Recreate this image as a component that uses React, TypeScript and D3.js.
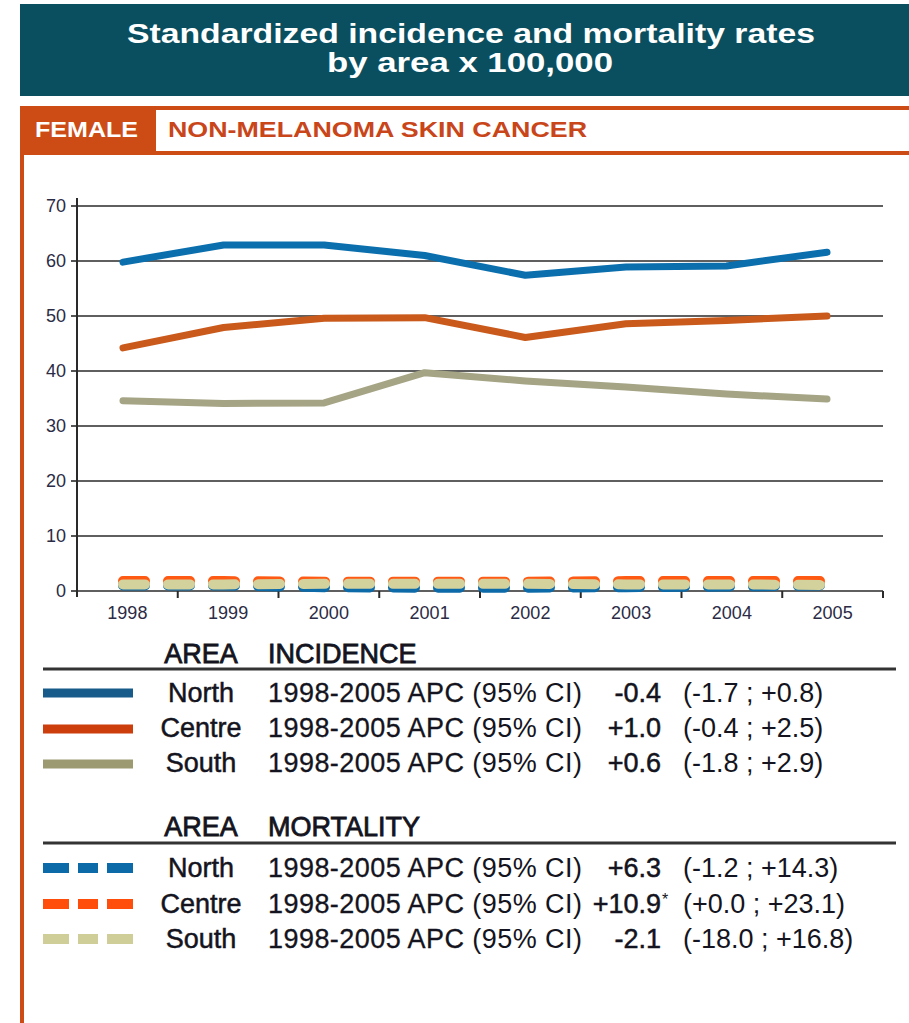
import React from "react";
import * as d3 from "d3";

const years = ["1998", "1999", "2000", "2001", "2002", "2003", "2004", "2005"];
const incNorth = [59.8, 62.9, 62.9, 61.0, 57.4, 58.9, 59.1, 61.6];
const incCentre = [44.2, 47.9, 49.6, 49.7, 46.1, 48.6, 49.2, 50.0];
const incSouth = [34.6, 34.1, 34.2, 39.7, 38.2, 37.1, 35.8, 34.9];
const morNorth = [1.0, 1.0, 0.7, 0.6, 0.6, 0.7, 0.8, 1.0];
const morCentre = [1.8, 1.8, 1.7, 1.7, 1.7, 1.8, 1.8, 1.8];
const morSouth = [1.2, 1.2, 1.3, 1.3, 1.3, 1.2, 1.2, 1.1];
const yTicks = [0, 10, 20, 30, 40, 50, 60, 70];

const areas = ["North", "Centre", "South"];
const period = "1998-2005 APC";
const ciLabel = "(95% CI)";
const incApc = ["-0.4", "+1.0", "+0.6"];
const incCi = ["(-1.7 ; +0.8)", "(-0.4 ; +2.5)", "(-1.8 ; +2.9)"];
const morApc = ["+6.3", "+10.9", "-2.1"];
const morSig = [false, true, false];
const morCi = ["(-1.2 ; +14.3)", "(+0.0 ; +23.1)", "(-18.0 ; +16.8)"];

const titleLines = ["Standardized incidence and mortality rates", "by area x 100,000"];
const sexLabel = "FEMALE";
const cancerLabel = "NON-MELANOMA SKIN CANCER";

const incColors = ["#0b6fae", "#c95a1b", "#a5a485"];
const incLegendColors = ["#165b8a", "#cc3e0c", "#9b9a71"];
const morColors = ["#0d6aa8", "#ff5a14", "#d3d19c"];
const morLegendColors = ["#0c6aa8", "#ff4d0c", "#cfcd98"];

const ORANGE = "#cd4b14";
const TEAL = "#0a4f60";
const TEXT = "#141420";
const FONT = "'Liberation Sans', Arial, Helvetica, sans-serif";

export default function App() {
  const y = d3.scaleLinear().domain([0, 70]).range([591, 206]);
  const xLine = d3.scalePoint<string>().domain(years).range([123, 827]);
  const xBand = d3.scaleBand<string>().domain(years).range([77, 883]);

  const line = d3
    .line<number>()
    .x((_, i) => xLine(years[i]) as number)
    .y((d) => y(d))
    .curve(d3.curveLinear);

  const incSeries = [incNorth, incCentre, incSouth];
  const morSeries = [morNorth, morCentre, morSouth];

  const legendRow = (
    i: number,
    baseline: number,
    swatchY: number,
    color: string,
    dashed: boolean,
    apc: string,
    sig: boolean,
    ci: string
  ) => (
    <g key={`${dashed ? "m" : "i"}${i}`}>
      <line
        x1={43}
        x2={133}
        y1={swatchY}
        y2={swatchY}
        stroke={color}
        strokeWidth={dashed ? 10 : 9}
        strokeDasharray={dashed ? "26 9 20 9 26" : undefined}
      />
      <text x={201} y={baseline} textAnchor="middle" fontSize={27} fill={TEXT} stroke={TEXT} strokeWidth={0.5}>
        {areas[i]}
      </text>
      <text x={268} y={baseline} fontSize={27} fill={TEXT} stroke={TEXT} strokeWidth={0.3} textLength={314} lengthAdjust="spacing">
        {period}
        <tspan stroke="none"> {ciLabel}</tspan>
      </text>
      <text x={661} y={baseline} textAnchor="end" fontSize={27} fill={TEXT} stroke={TEXT} strokeWidth={0.5}>
        {apc}
      </text>
      {sig && (
        <text x={662} y={baseline - 8} fontSize={16} fill={TEXT}>
          *
        </text>
      )}
      <text x={683} y={baseline} fontSize={27} fill={TEXT}>
        {ci}
      </text>
    </g>
  );

  const incBase = [702, 737, 772];
  const incSw = [693, 729, 764];
  const morBase = [877, 913, 948];
  const morSw = [868, 904, 939];

  return (
    <svg
      width={909}
      height={1023}
      style={{ position: "absolute", left: 0, top: 0, background: "#fff" }}
      fontFamily={FONT}
    >
      {/* Title banner */}
      <rect x={20} y={4} width={889} height={92} fill={TEAL} />
      <text x={471} y={43} textAnchor="middle" fontSize={27} fontWeight="bold" fill="#fff" textLength={688} lengthAdjust="spacingAndGlyphs">
        {titleLines[0]}
      </text>
      <text x={470} y={72} textAnchor="middle" fontSize={27} fontWeight="bold" fill="#fff" textLength={286} lengthAdjust="spacingAndGlyphs">
        {titleLines[1]}
      </text>

      {/* Section header */}
      <rect x={20} y={106} width={889} height={49} fill={ORANGE} />
      <rect x={156} y={110} width={753} height={41} fill="#fff" />
      <rect x={20} y={155} width={4} height={868} fill={ORANGE} />
      <text x={35} y={137} fontSize={22} fontWeight="bold" fill="#fff" textLength={103} lengthAdjust="spacingAndGlyphs">
        {sexLabel}
      </text>
      <text x={168} y={137} fontSize={22} fontWeight="bold" fill="#c9451a" textLength={419} lengthAdjust="spacingAndGlyphs">
        {cancerLabel}
      </text>

      {/* Grid + y axis */}
      {yTicks.map((t) => (
        <g key={t}>
          <line x1={77} x2={883} y1={y(t)} y2={y(t)} stroke="#2a2a2a" strokeWidth={1.6} />
          <line x1={71} x2={77} y1={y(t)} y2={y(t)} stroke="#2a2a2a" strokeWidth={1.6} />
          <text x={66} y={y(t)} dy="0.35em" textAnchor="end" fontSize={18} fill="#2b2b45">
            {t}
          </text>
        </g>
      ))}
      <line x1={77} x2={77} y1={198} y2={597} stroke="#2a2a2a" strokeWidth={2} />

      {/* X axis ticks and labels */}
      {years.map((yr) => {
        const x0 = xBand(yr) as number;
        const bw = xBand.bandwidth();
        return (
          <g key={yr}>
            <line x1={x0 + bw} x2={x0 + bw} y1={591} y2={598} stroke="#2a2a2a" strokeWidth={2} />
            <text x={x0 + bw / 2} y={619} textAnchor="middle" fontSize={18} fill="#2b2b45">
              {yr}
            </text>
          </g>
        );
      })}

      {/* Mortality dashed lines */}
      {morSeries.map((s, i) => (
        <path
          key={`mor${i}`}
          d={line(s) as string}
          fill="none"
          stroke={morColors[i]}
          strokeWidth={10}
          strokeLinecap="round"
          strokeDasharray="22 23"
        />
      ))}

      {/* Incidence lines */}
      {incSeries.map((s, i) => (
        <path
          key={`inc${i}`}
          d={line(s) as string}
          fill="none"
          stroke={incColors[i]}
          strokeWidth={7}
          strokeLinecap="round"
          strokeLinejoin="round"
        />
      ))}

      {/* Legend: incidence */}
      <text x={201} y={663} textAnchor="middle" fontSize={27} fill={TEXT} stroke={TEXT} strokeWidth={0.8}>AREA</text>
      <text x={268} y={663} fontSize={27} fill={TEXT} stroke={TEXT} strokeWidth={0.8}>INCIDENCE</text>
      <line x1={43} x2={896} y1={669} y2={669} stroke="#333" strokeWidth={3} />
      {areas.map((_, i) =>
        legendRow(i, incBase[i], incSw[i], incLegendColors[i], false, incApc[i], false, incCi[i])
      )}

      {/* Legend: mortality */}
      <text x={201} y={836} textAnchor="middle" fontSize={27} fill={TEXT} stroke={TEXT} strokeWidth={0.8}>AREA</text>
      <text x={268} y={836} fontSize={27} fill={TEXT} stroke={TEXT} strokeWidth={0.8}>MORTALITY</text>
      <line x1={43} x2={896} y1={843} y2={843} stroke="#333" strokeWidth={3} />
      {areas.map((_, i) =>
        legendRow(i, morBase[i], morSw[i], morLegendColors[i], true, morApc[i], morSig[i], morCi[i])
      )}
    </svg>
  );
}
